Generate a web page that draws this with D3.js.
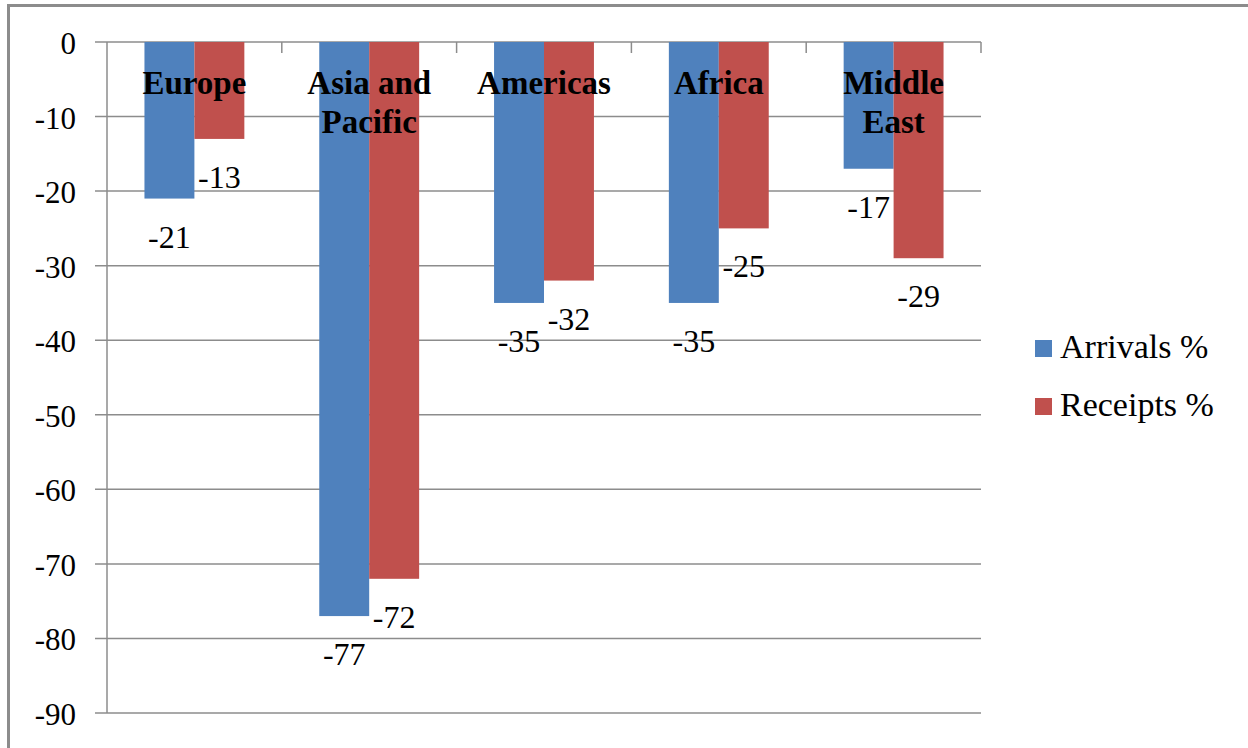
<!DOCTYPE html>
<html>
<head>
<meta charset="utf-8">
<script src="https://cdn.jsdelivr.net/npm/d3@7"></script>
<style>
  html, body { margin: 0; padding: 0; background: #fff; }
  svg { display: block; }
</style>
</head>
<body>
<svg id="chart" width="1248" height="748"></svg>
<script>
// Regional change in tourism, percent
const categories = [["Europe"], ["Asia and", "Pacific"], ["Americas"], ["Africa"], ["Middle", "East"]];
const seriesNames = ["Arrivals %", "Receipts %"];
const arrivals = [-21, -77, -35, -35, -17];
const receipts = [-13, -72, -32, -25, -29];
const yTicks = [0, -10, -20, -30, -40, -50, -60, -70, -80, -90];
const colors = ["#4F81BD", "#C0504D"];
const FONT = "Liberation Serif";

const svg = d3.select("#chart");

// chart frame
svg.append("rect")
  .attr("x", 8.5).attr("y", 5.5)
  .attr("width", 1260).attr("height", 760)
  .attr("fill", "none").attr("stroke", "#8c8c8c").attr("stroke-width", 3);

const plot = { left: 107, right: 981, top: 42, bottom: 713 };

const x0 = d3.scaleBand()
  .domain(d3.range(categories.length))
  .range([plot.left, plot.right])
  .paddingInner(0).paddingOuter(0);

const x1 = d3.scaleBand()
  .domain(seriesNames)
  .range([0, x0.bandwidth()])
  .paddingInner(0).paddingOuter(0.75);

const y = d3.scaleLinear().domain([-90, 0]).range([plot.bottom, plot.top]);

// horizontal gridlines with left tick stubs
svg.append("g").selectAll("line").data(yTicks).join("line")
  .attr("x1", plot.left - 12).attr("x2", plot.right)
  .attr("y1", d => y(d)).attr("y2", d => y(d))
  .attr("stroke", "#8c8c8c").attr("stroke-width", 1.5);

// value axis line
svg.append("line")
  .attr("x1", plot.left).attr("x2", plot.left)
  .attr("y1", plot.top).attr("y2", plot.bottom)
  .attr("stroke", "#8c8c8c").attr("stroke-width", 1.5);

// value axis labels
svg.append("g").selectAll("text").data(yTicks).join("text")
  .attr("x", 76).attr("y", d => y(d) + 12)
  .attr("text-anchor", "end")
  .attr("font-family", FONT)
  .attr("font-size", 31)
  .attr("fill", "#000")
  .text(d => d === 0 ? "0" : "-" + Math.abs(d));

// category tick marks along the zero line
svg.append("g").selectAll("line").data(d3.range(1, categories.length + 1)).join("line")
  .attr("x1", i => x0.step() * i + plot.left).attr("x2", i => x0.step() * i + plot.left)
  .attr("y1", y(0)).attr("y2", y(0) + 11)
  .attr("stroke", "#8c8c8c").attr("stroke-width", 1.5);

// bars
const rows = categories.map((c, i) => ({ i, values: [arrivals[i], receipts[i]] }));
const groups = svg.append("g").selectAll("g").data(rows).join("g")
  .attr("transform", d => `translate(${x0(d.i)},0)`);

groups.selectAll("rect").data(d => d.values.map((v, k) => ({ k, v }))).join("rect")
  .attr("x", d => x1(seriesNames[d.k]))
  .attr("width", x1.bandwidth())
  .attr("y", y(0))
  .attr("height", d => y(d.v) - y(0))
  .attr("fill", d => colors[d.k]);

// data labels below bar ends
groups.selectAll("text.val").data(d => d.values.map((v, k) => ({ k, v }))).join("text")
  .attr("class", "val")
  .attr("x", d => x1(seriesNames[d.k]) + x1.bandwidth() / 2)
  .attr("y", d => y(d.v) + 49)
  .attr("text-anchor", "middle")
  .attr("font-family", FONT)
  .attr("font-size", 32)
  .attr("fill", "#000")
  .text(d => d.v);

// category names near the zero line
const catLabels = svg.append("g").selectAll("text").data(categories).join("text")
  .attr("text-anchor", "middle")
  .attr("font-family", FONT)
  .attr("font-size", 33)
  .attr("font-weight", "bold")
  .attr("fill", "#000")
  .attr("transform", (d, i) => `translate(${x0(i) + x0.bandwidth() / 2},0)`);
catLabels.selectAll("tspan").data(d => d).join("tspan")
  .attr("x", 0)
  .attr("y", (d, j) => 94 + j * 39)
  .text(d => d);

// legend
const legend = svg.append("g").selectAll("g").data(seriesNames).join("g")
  .attr("transform", (d, i) => `translate(1035,${340 + i * 58})`);
legend.append("rect")
  .attr("width", 17).attr("height", 17)
  .attr("fill", (d, i) => colors[i]);
legend.append("text")
  .attr("x", 25).attr("y", 18)
  .attr("font-family", FONT)
  .attr("font-size", 34)
  .attr("fill", "#000")
  .text(d => d);
</script>
</body>
</html>
